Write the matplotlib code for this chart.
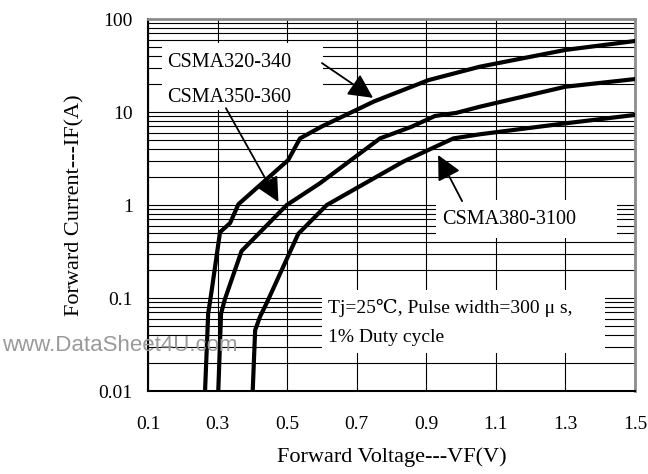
import numpy as np
import matplotlib
matplotlib.use('Agg')
import matplotlib.pyplot as plt
from matplotlib.ticker import LogLocator, NullFormatter, FixedLocator
from matplotlib.patches import Rectangle

# Forward characteristics (V, A)
vf_320 = [0.264, 0.273, 0.283, 0.307, 0.336, 0.36, 0.503, 0.537, 0.60, 0.75, 0.906, 1.054, 1.30, 1.5]
if_320 = [0.01, 0.068, 0.12, 0.51, 0.64, 1.02, 3.04, 5.2, 7.0, 13.0, 22.0, 30.7, 46.5, 58.0]

vf_350 = [0.302, 0.31, 0.321, 0.369, 0.499, 0.594, 0.767, 0.858, 0.925, 0.987, 1.054, 1.30, 1.5]
if_350 = [0.01, 0.068, 0.097, 0.32, 1.0, 1.71, 5.2, 6.95, 9.06, 9.8, 11.4, 18.7, 22.6]

vf_380 = [0.401, 0.408, 0.422, 0.441, 0.532, 0.614, 0.834, 0.978, 1.054, 1.30, 1.5]
if_380 = [0.01, 0.045, 0.063, 0.088, 0.49, 1.0, 2.93, 5.2, 5.76, 7.55, 9.3]

x_ticks = [0.1, 0.3, 0.5, 0.7, 0.9, 1.1, 1.3, 1.5]
y_ticks = [0.01, 0.1, 1, 10, 100]
y_tick_labels = ['0.01', '0.1', '1', '10', '100']

serif = ['Liberation Serif', 'DejaVu Serif']
plt.rcParams['font.family'] = serif

fig = plt.figure(figsize=(6.48, 4.74), dpi=100)
ax = fig.add_axes([0.2284, 0.1751, 0.7515, 0.7848])

ax.set_yscale('log')
ax.set_xlim(0.1, 1.5)
ax.set_ylim(0.01, 100)

ax.xaxis.set_major_locator(FixedLocator(x_ticks))
ax.set_xticklabels([f'{v:.1f}' for v in x_ticks])
ax.set_yticks(y_ticks)
ax.set_yticklabels(y_tick_labels)
ax.yaxis.set_minor_locator(LogLocator(base=10, subs=np.arange(2, 10)))
ax.yaxis.set_minor_formatter(NullFormatter())

ax.tick_params(which='both', length=0, labelsize=14)
ax.tick_params(axis='y', pad=11)
ax.tick_params(axis='x', pad=18)

ax.grid(True, which='both', axis='y', color='black', lw=0.8, zorder=1)
ax.grid(True, which='major', axis='x', color='black', lw=0.8, zorder=1)
ax.set_axisbelow(True)

for s in ['left', 'bottom']:
    ax.spines[s].set_color('black')
    ax.spines[s].set_linewidth(1.5)
for s in ['top', 'right']:
    ax.spines[s].set_color('#8c8c8c')
    ax.spines[s].set_linewidth(2)

# white label boxes that hide the grid
for (x0, y0, w, h) in [(0.029, 0.755, 0.330, 0.180),
                       (0.591, 0.411, 0.372, 0.102),
                       (0.357, 0.102, 0.581, 0.170)]:
    ax.add_patch(Rectangle((x0, y0), w, h, transform=ax.transAxes,
                           facecolor='white', edgecolor='none', zorder=2))

for v, i in [(vf_320, if_320), (vf_350, if_350), (vf_380, if_380)]:
    ax.plot(v, i, color='black', lw=3, solid_joinstyle='miter', zorder=3)

fs = 14.5
ax.text(0.039, 0.884, 'CSMA320-340', transform=ax.transAxes, fontsize=fs,
        va='center', ha='left', zorder=4)
ax.text(0.039, 0.788, 'CSMA350-360', transform=ax.transAxes, fontsize=fs,
        va='center', ha='left', zorder=4)
ax.text(0.604, 0.462, 'CSMA380-3100', transform=ax.transAxes, fontsize=fs,
        va='center', ha='left', zorder=4)
ax.text(0.370, 0.223, 'Tj=25\u2103, Pulse width=300 \u03bc s,', transform=ax.transAxes,
        fontsize=fs - 0.5, va='center', ha='left', zorder=4)
ax.text(0.370, 0.145, '1% Duty cycle', transform=ax.transAxes,
        fontsize=fs - 0.5, va='center', ha='left', zorder=4)

arrow = dict(arrowstyle='-|>,head_length=1.0,head_width=0.5', mutation_scale=15,
             color='black', lw=1.3, shrinkA=0, shrinkB=0)
ax.annotate('', xy=(0.747, 14.2), xytext=(0.60, 33.6), arrowprops=arrow, zorder=5)
ax.annotate('', xy=(0.475, 1.08), xytext=(0.324, 11.0), arrowprops=arrow, zorder=5)
ax.annotate('', xy=(0.934, 3.45), xytext=(1.003, 1.10), arrowprops=arrow, zorder=5)

ax.set_xlabel('Forward Voltage---VF(V)', fontsize=16, labelpad=10)
ax.set_ylabel('Forward Current---IF(A)', fontsize=16, labelpad=10)

fig.text(0.003, 0.272, 'www.DataSheet4U.com', fontsize=16, color='#9a9a9a',
         family='Liberation Sans', va='center', ha='left', zorder=10)

fig.savefig('out.png', dpi=100)
